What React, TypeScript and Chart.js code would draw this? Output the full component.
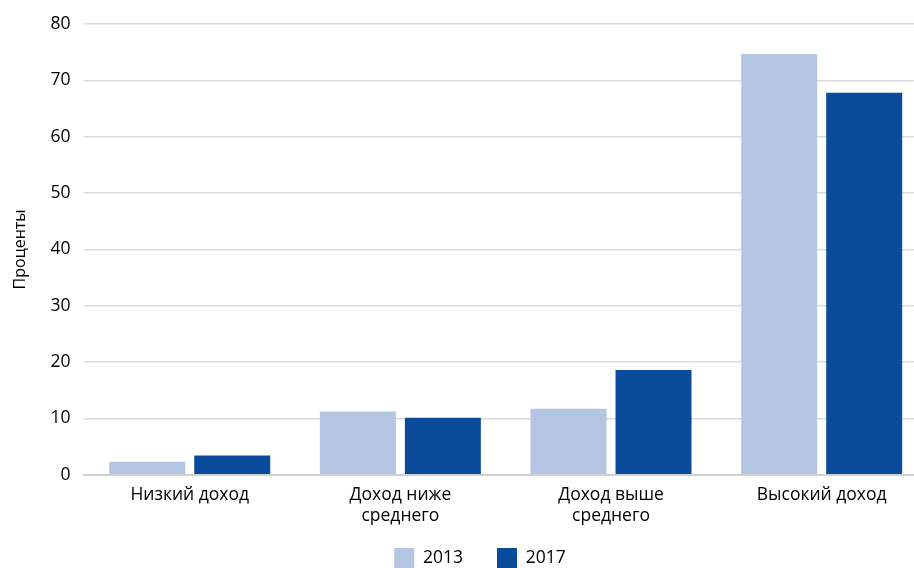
import React, { useEffect, useRef } from "react";
import { Chart, registerables } from "chart.js";

Chart.register(...registerables);

const categories: (string | string[])[] = [
  "Низкий доход",
  ["Доход ниже", "среднего"],
  ["Доход выше", "среднего"],
  "Высокий доход",
];
const series2013 = [2.3, 11.2, 11.7, 74.7];
const series2017 = [3.4, 10.1, 18.6, 67.8];
const seriesLabels = ["2013", "2017"];
const yTitle = "Проценты";

const legendShift = {
  id: "legendShift",
  afterLayout(chart: any) {
    const l = chart.legend;
    if (l) {
      l.left += 12;
      l.right += 12;
      l.top -= 22;
      l.bottom -= 22;
    }
  },
};

export default function App() {
  const ref = useRef<HTMLCanvasElement>(null);
  useEffect(() => {
    if (!ref.current) return;
    const font = { family: "'Open Sans', sans-serif", size: 17.5, lineHeight: 1.15 };
    const chart = new Chart(ref.current, {
      type: "bar",
      data: {
        labels: categories,
        datasets: [
          { label: seriesLabels[0], data: series2013, backgroundColor: "#b4c4e3" },
          { label: seriesLabels[1], data: series2017, backgroundColor: "#0a4b9b" },
        ],
      },
      plugins: [legendShift],
      options: {
        animation: false,
        responsive: true,
        maintainAspectRatio: false,
        layout: { padding: { top: 12, right: 0, left: 9, bottom: -32 } },
        datasets: { bar: { categoryPercentage: 0.807, barPercentage: 0.894 } },
        plugins: {
          legend: {
            position: "bottom",
            labels: {
              font,
              color: "#000",
              boxWidth: 20,
              boxHeight: 20,
              padding: 34,
            },
          },
          tooltip: { enabled: false },
        },
        scales: {
          x: {
            grid: { display: false, drawTicks: false },
            border: { color: "#d0d0d0", width: 2 },
            ticks: { font: { ...font, lineHeight: 1.18 }, color: "#000", padding: 10, maxRotation: 0 },
          },
          y: {
            min: 0,
            max: 80,
            ticks: { stepSize: 10, font, color: "#000", padding: 14 },
            grid: { color: "#dcdcdc", lineWidth: 1.5, drawTicks: false },
            border: { display: false },
            title: {
              display: true,
              text: yTitle,
              font: { ...font, size: 16 },
              color: "#000",
              padding: { top: 2, bottom: 7 },
            },
          },
        },
      },
    });
    return () => chart.destroy();
  }, []);
  return (
    <div style={{ position: "fixed", left: 0, top: 0, width: 914, height: 568, overflow: "hidden" }}>
      <div style={{ position: "absolute", left: 0, top: 0, width: 927, height: 568 }}>
        <canvas ref={ref} />
      </div>
    </div>
  );
}
